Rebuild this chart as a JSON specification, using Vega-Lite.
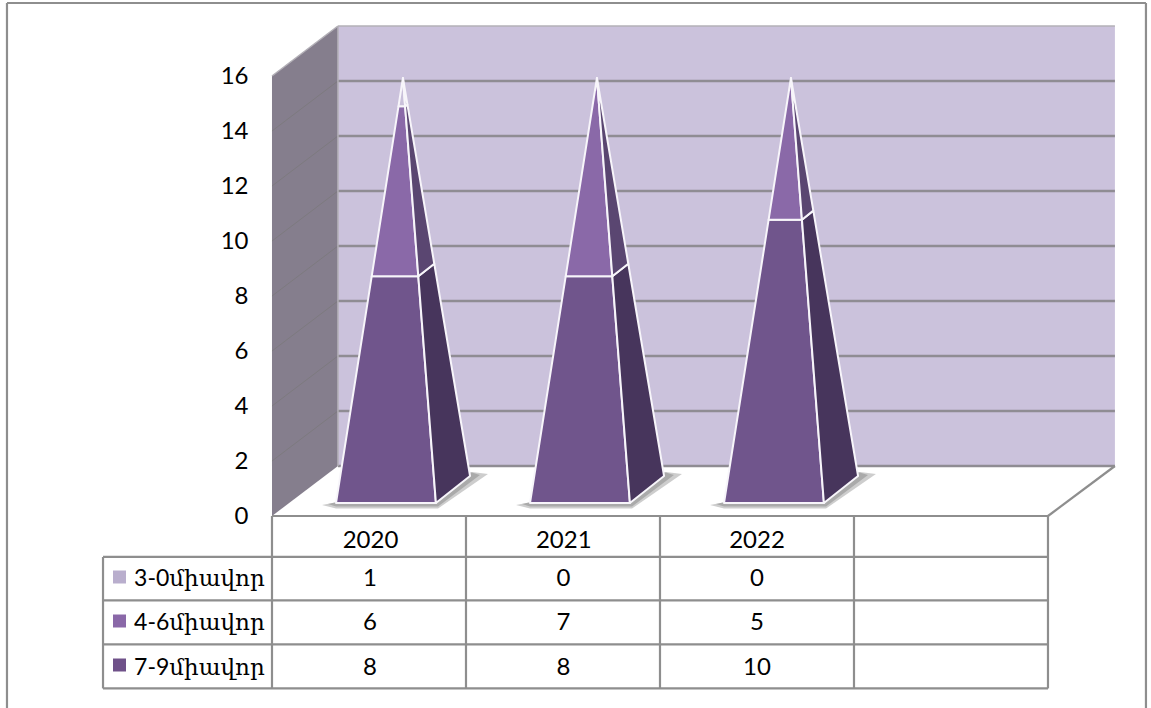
{"$schema":"https://vega.github.io/schema/vega-lite/v6.json","width":1151,"height":708,"padding":0,"autosize":{"type":"none"},"background":"#ffffff","config":{"view":{"stroke":null},"font":"Lato"},
"resolve":{"scale":{"x":"independent","y":"independent","fill":"independent","color":"independent"}},
"layer":[
{"data":{"values":[
{"poly":"back","x":-0.16,"y":1.818,"i":0},{"poly":"back","x":3.845,"y":1.818,"i":1},{"poly":"back","x":3.845,"y":17.818,"i":2},{"poly":"back","x":-0.16,"y":17.818,"i":3},
{"poly":"left","x":-0.5,"y":0,"i":0},{"poly":"left","x":-0.16,"y":1.818,"i":1},{"poly":"left","x":-0.16,"y":17.818,"i":2},{"poly":"left","x":-0.5,"y":16,"i":3}]},
"mark":{"type":"line","interpolate":"linear-closed","strokeWidth":0},
"encoding":{"x":{"field":"x","type":"quantitative","scale":{"domain":[-1.902,4.031]},"axis":null},
"y":{"field":"y","type":"quantitative","scale":{"domain":[0,16],"range":[516,76],"nice":false,"zero":false},"axis":{"title":null,"values":[0,2,4,6,8,10,12,14,16],"orient":"left","offset":-248,"domain":false,"ticks":false,"tickSize":0,"labelPadding":0,"grid":false,"labelFont":"Lato","labelFontSize":24,"labelColor":"#000000","labelFlush":false,"labelOverlap":false}},
"fill":{"field":"poly","type":"nominal","scale":{"domain":["back","left"],"range":["#cbc2dc","#857e8d"]},"legend":null},
"detail":{"field":"poly"},"order":{"field":"i","type":"quantitative"}}},
{"data":{"values":[{"t":2,"x":-0.5,"x2":-0.16,"y":2,"y2":3.818},{"t":4,"x":-0.5,"x2":-0.16,"y":4,"y2":5.818},{"t":6,"x":-0.5,"x2":-0.16,"y":6,"y2":7.818},{"t":8,"x":-0.5,"x2":-0.16,"y":8,"y2":9.818},{"t":10,"x":-0.5,"x2":-0.16,"y":10,"y2":11.818},{"t":12,"x":-0.5,"x2":-0.16,"y":12,"y2":13.818},{"t":14,"x":-0.5,"x2":-0.16,"y":14,"y2":15.818}]},
"mark":{"type":"rule","stroke":"#7d7a7f","strokeWidth":1},
"encoding":{"x":{"field":"x","type":"quantitative","scale":{"domain":[-1.902,4.031]},"axis":null},"x2":{"field":"x2"},
"y":{"field":"y","type":"quantitative","scale":{"domain":[0,16],"range":[516,76],"nice":false,"zero":false},"axis":null},"y2":{"field":"y2"}}},
{"data":{"values":[{"t":0,"x":-0.16,"x2":3.845,"y":1.818},{"t":2,"x":-0.16,"x2":3.845,"y":3.818},{"t":4,"x":-0.16,"x2":3.845,"y":5.818},{"t":6,"x":-0.16,"x2":3.845,"y":7.818},{"t":8,"x":-0.16,"x2":3.845,"y":9.818},{"t":10,"x":-0.16,"x2":3.845,"y":11.818},{"t":12,"x":-0.16,"x2":3.845,"y":13.818},{"t":14,"x":-0.16,"x2":3.845,"y":15.818}]},
"mark":{"type":"rule","stroke":"#8f8c93","strokeWidth":2.4},
"encoding":{"x":{"field":"x","type":"quantitative","scale":{"domain":[-1.902,4.031]},"axis":null},"x2":{"field":"x2"},
"y":{"field":"y","type":"quantitative","scale":{"domain":[0,16],"range":[516,76],"nice":false,"zero":false},"axis":null}}},
{"data":{"values":[
{"x":-0.16,"x2":3.845,"y":17.818,"y2":17.818},{"x":-0.16,"x2":-0.16,"y":1.818,"y2":17.818},{"x":-0.5,"x2":-0.16,"y":16,"y2":17.818}]},
"mark":{"type":"rule","stroke":"#b3b0b7","strokeWidth":1.5},
"encoding":{"x":{"field":"x","type":"quantitative","scale":{"domain":[-1.902,4.031]},"axis":null},"x2":{"field":"x2"},
"y":{"field":"y","type":"quantitative","scale":{"domain":[0,16],"range":[516,76],"nice":false,"zero":false},"axis":null},"y2":{"field":"y2"}}},
{"data":{"values":[
{"poly":"a0","x":-0.242,"y":0.40,"i":0},{"poly":"a0","x":-0.17,"y":0.5,"i":1},{"poly":"a0","x":0.3,"y":0.9,"i":2},{"poly":"a0","x":0.531,"y":1.6,"i":3},{"poly":"a0","x":0.613,"y":1.527,"i":4},{"poly":"a0","x":0.356,"y":0.273,"i":5},{"poly":"a0","x":-0.17,"y":0.273,"i":6},
{"poly":"b0","x":-0.211,"y":0.436,"i":0},{"poly":"b0","x":-0.17,"y":0.5,"i":1},{"poly":"b0","x":0.3,"y":0.9,"i":2},{"poly":"b0","x":0.521,"y":1.6,"i":3},{"poly":"b0","x":0.572,"y":1.49,"i":4},{"poly":"b0","x":0.356,"y":0.345,"i":5},{"poly":"b0","x":-0.17,"y":0.345,"i":6},
{"poly":"a1","x":0.758,"y":0.40,"i":0},{"poly":"a1","x":0.83,"y":0.5,"i":1},{"poly":"a1","x":1.3,"y":0.9,"i":2},{"poly":"a1","x":1.531,"y":1.6,"i":3},{"poly":"a1","x":1.613,"y":1.527,"i":4},{"poly":"a1","x":1.356,"y":0.273,"i":5},{"poly":"a1","x":0.83,"y":0.273,"i":6},
{"poly":"b1","x":0.789,"y":0.436,"i":0},{"poly":"b1","x":0.83,"y":0.5,"i":1},{"poly":"b1","x":1.3,"y":0.9,"i":2},{"poly":"b1","x":1.521,"y":1.6,"i":3},{"poly":"b1","x":1.572,"y":1.49,"i":4},{"poly":"b1","x":1.356,"y":0.345,"i":5},{"poly":"b1","x":0.83,"y":0.345,"i":6},
{"poly":"a2","x":1.758,"y":0.40,"i":0},{"poly":"a2","x":1.83,"y":0.5,"i":1},{"poly":"a2","x":2.3,"y":0.9,"i":2},{"poly":"a2","x":2.531,"y":1.6,"i":3},{"poly":"a2","x":2.613,"y":1.527,"i":4},{"poly":"a2","x":2.356,"y":0.273,"i":5},{"poly":"a2","x":1.83,"y":0.273,"i":6},
{"poly":"b2","x":1.789,"y":0.436,"i":0},{"poly":"b2","x":1.83,"y":0.5,"i":1},{"poly":"b2","x":2.3,"y":0.9,"i":2},{"poly":"b2","x":2.521,"y":1.6,"i":3},{"poly":"b2","x":2.572,"y":1.49,"i":4},{"poly":"b2","x":2.356,"y":0.345,"i":5},{"poly":"b2","x":1.83,"y":0.345,"i":6}]},
"mark":{"type":"line","interpolate":"linear-closed","fill":"#5a5a5a","fillOpacity":0.3,"strokeWidth":0},
"encoding":{"x":{"field":"x","type":"quantitative","scale":{"domain":[-1.902,4.031]},"axis":null},
"y":{"field":"y","type":"quantitative","scale":{"domain":[0,16],"range":[516,76],"nice":false,"zero":false},"axis":null},
"detail":{"field":"poly"},"order":{"field":"i","type":"quantitative"}}},
{"data":{"values":[
{"poly":"2020 7-9 front","tone":"7-9 front","x":-0.17,"y":0,"i":0},{"poly":"2020 7-9 front","tone":"7-9 front","x":0.014,"y":8,"i":1},{"poly":"2020 7-9 front","tone":"7-9 front","x":0.2543,"y":8,"i":2},{"poly":"2020 7-9 front","tone":"7-9 front","x":0.345,"y":0,"i":3},
{"poly":"2020 7-9 side","tone":"7-9 side","x":0.345,"y":0,"i":0},{"poly":"2020 7-9 side","tone":"7-9 side","x":0.521,"y":0.953,"i":1},{"poly":"2020 7-9 side","tone":"7-9 side","x":0.3365,"y":8.445,"i":2},{"poly":"2020 7-9 side","tone":"7-9 side","x":0.2543,"y":8,"i":3},
{"poly":"2020 4-6 front","tone":"4-6 front","x":0.014,"y":8,"i":0},{"poly":"2020 4-6 front","tone":"4-6 front","x":0.152,"y":14,"i":1},{"poly":"2020 4-6 front","tone":"4-6 front","x":0.1863,"y":14,"i":2},{"poly":"2020 4-6 front","tone":"4-6 front","x":0.2543,"y":8,"i":3},
{"poly":"2020 4-6 side","tone":"4-6 side","x":0.2543,"y":8,"i":0},{"poly":"2020 4-6 side","tone":"4-6 side","x":0.3365,"y":8.445,"i":1},{"poly":"2020 4-6 side","tone":"4-6 side","x":0.1981,"y":14.064,"i":2},{"poly":"2020 4-6 side","tone":"4-6 side","x":0.1863,"y":14,"i":3},
{"poly":"2020 3-0 front","tone":"3-0 front","x":0.152,"y":14,"i":0},{"poly":"2020 3-0 front","tone":"3-0 front","x":0.175,"y":15,"i":1},{"poly":"2020 3-0 front","tone":"3-0 front","x":0.1863,"y":14,"i":2},
{"poly":"2020 3-0 side","tone":"3-0 side","x":0.1863,"y":14,"i":0},{"poly":"2020 3-0 side","tone":"3-0 side","x":0.1981,"y":14.064,"i":1},{"poly":"2020 3-0 side","tone":"3-0 side","x":0.175,"y":15,"i":2},
{"poly":"2021 7-9 front","tone":"7-9 front","x":0.83,"y":0,"i":0},{"poly":"2021 7-9 front","tone":"7-9 front","x":1.014,"y":8,"i":1},{"poly":"2021 7-9 front","tone":"7-9 front","x":1.2543,"y":8,"i":2},{"poly":"2021 7-9 front","tone":"7-9 front","x":1.345,"y":0,"i":3},
{"poly":"2021 7-9 side","tone":"7-9 side","x":1.345,"y":0,"i":0},{"poly":"2021 7-9 side","tone":"7-9 side","x":1.521,"y":0.953,"i":1},{"poly":"2021 7-9 side","tone":"7-9 side","x":1.3365,"y":8.445,"i":2},{"poly":"2021 7-9 side","tone":"7-9 side","x":1.2543,"y":8,"i":3},
{"poly":"2021 4-6 front","tone":"4-6 front","x":1.014,"y":8,"i":0},{"poly":"2021 4-6 front","tone":"4-6 front","x":1.175,"y":15,"i":1},{"poly":"2021 4-6 front","tone":"4-6 front","x":1.2543,"y":8,"i":2},
{"poly":"2021 4-6 side","tone":"4-6 side","x":1.2543,"y":8,"i":0},{"poly":"2021 4-6 side","tone":"4-6 side","x":1.3365,"y":8.445,"i":1},{"poly":"2021 4-6 side","tone":"4-6 side","x":1.175,"y":15,"i":2},
{"poly":"2022 7-9 front","tone":"7-9 front","x":1.83,"y":0,"i":0},{"poly":"2022 7-9 front","tone":"7-9 front","x":2.06,"y":10,"i":1},{"poly":"2022 7-9 front","tone":"7-9 front","x":2.2317,"y":10,"i":2},{"poly":"2022 7-9 front","tone":"7-9 front","x":2.345,"y":0,"i":3},
{"poly":"2022 7-9 side","tone":"7-9 side","x":2.345,"y":0,"i":0},{"poly":"2022 7-9 side","tone":"7-9 side","x":2.521,"y":0.953,"i":1},{"poly":"2022 7-9 side","tone":"7-9 side","x":2.2903,"y":10.318,"i":2},{"poly":"2022 7-9 side","tone":"7-9 side","x":2.2317,"y":10,"i":3},
{"poly":"2022 4-6 front","tone":"4-6 front","x":2.06,"y":10,"i":0},{"poly":"2022 4-6 front","tone":"4-6 front","x":2.175,"y":15,"i":1},{"poly":"2022 4-6 front","tone":"4-6 front","x":2.2317,"y":10,"i":2},
{"poly":"2022 4-6 side","tone":"4-6 side","x":2.2317,"y":10,"i":0},{"poly":"2022 4-6 side","tone":"4-6 side","x":2.2903,"y":10.318,"i":1},{"poly":"2022 4-6 side","tone":"4-6 side","x":2.175,"y":15,"i":2}]},
"mark":{"type":"line","interpolate":"linear-closed","stroke":"#f7f5fa","strokeWidth":2,"strokeJoin":"round"},
"encoding":{"x":{"field":"x","type":"quantitative","scale":{"domain":[-1.902,4.031]},"axis":null},
"y":{"field":"y","type":"quantitative","scale":{"domain":[0,15],"range":[503,78],"nice":false,"zero":false},"axis":null},
"fill":{"field":"tone","type":"nominal","scale":{"domain":["7-9 front","7-9 side","4-6 front","4-6 side","3-0 front","3-0 side"],"range":["#70558c","#47355c","#8a69a8","#5a4671","#c9c0da","#a79cbc"]},"legend":null},
"detail":{"field":"poly"},"order":{"field":"i","type":"quantitative"}}},
{"data":{"values":[
{"x":-0.5,"x2":3.5,"y":0,"y2":0},{"x":3.5,"x2":3.845,"y":0,"y2":1.818},
{"x":-1.371,"x2":3.5,"y":-1.49,"y2":-1.49},{"x":-1.371,"x2":3.5,"y":-3.07,"y2":-3.07},{"x":-1.371,"x2":3.5,"y":-4.67,"y2":-4.67},{"x":-1.371,"x2":3.5,"y":-6.27,"y2":-6.27},
{"x":-1.371,"x2":-1.371,"y":-1.49,"y2":-6.27},{"x":-0.5,"x2":-0.5,"y":0,"y2":-6.27},{"x":0.5,"x2":0.5,"y":0,"y2":-6.27},{"x":1.5,"x2":1.5,"y":0,"y2":-6.27},{"x":2.5,"x2":2.5,"y":0,"y2":-6.27},{"x":3.5,"x2":3.5,"y":0,"y2":-6.27},
{"x":-1.866,"x2":4.005,"y":18.655,"y2":18.655},{"x":-1.866,"x2":-1.866,"y":18.655,"y2":-7.1},{"x":4.005,"x2":4.005,"y":18.655,"y2":-7.1}]},
"mark":{"type":"rule","stroke":"#8e8e8e","strokeWidth":2.2},
"encoding":{"x":{"field":"x","type":"quantitative","scale":{"domain":[-1.902,4.031]},"axis":null},"x2":{"field":"x2"},
"y":{"field":"y","type":"quantitative","scale":{"domain":[0,16],"range":[516,76],"nice":false,"zero":false},"axis":null},"y2":{"field":"y2"}}},
{"data":{"values":[{"year":"2020"},{"year":"2021"},{"year":"2022"}]},
"mark":{"type":"text","font":"Lato","fontSize":24,"color":"#000000","baseline":"middle","align":"center"},
"encoding":{"x":{"field":"year","type":"nominal","scale":{"type":"point","domain":["2020","2021","2022"],"range":[370.5,757],"padding":0},"axis":null},
"y":{"datum":-0.91,"type":"quantitative","scale":{"domain":[0,16],"range":[516,76],"nice":false,"zero":false},"axis":null},
"text":{"field":"year","type":"nominal"}}},
{"data":{"values":[
{"year":"2020","series":"3-0միավոր","value":1},{"year":"2021","series":"3-0միավոր","value":0},{"year":"2022","series":"3-0միավոր","value":0},
{"year":"2020","series":"4-6միավոր","value":6},{"year":"2021","series":"4-6միավոր","value":7},{"year":"2022","series":"4-6միավոր","value":5},
{"year":"2020","series":"7-9միավոր","value":8},{"year":"2021","series":"7-9միավոր","value":8},{"year":"2022","series":"7-9միավոր","value":10}]},
"mark":{"type":"text","font":"Lato","fontSize":24,"color":"#000000","baseline":"middle","align":"center"},
"encoding":{"x":{"field":"year","type":"nominal","scale":{"type":"point","domain":["2020","2021","2022"],"range":[370,757],"padding":0},"axis":null},
"y":{"field":"series","type":"nominal","scale":{"type":"point","domain":["3-0միավոր","4-6միավոր","7-9միավոր"],"range":[579,667.5],"padding":0},"axis":null},
"text":{"field":"value","type":"quantitative"}}},
{"data":{"values":[{"series":"3-0միավոր"},{"series":"4-6միավոր"},{"series":"7-9միավոր"}]},
"mark":{"type":"text","font":"Lato, DejaVu Serif","fontSize":23,"color":"#000000","baseline":"middle","align":"left"},
"encoding":{"x":{"datum":-1.211,"type":"quantitative","scale":{"domain":[-1.902,4.031]},"axis":null},
"y":{"field":"series","type":"nominal","scale":{"type":"point","domain":["3-0միավոր","4-6միավոր","7-9միավոր"],"range":[579,667.5],"padding":0},"axis":null},
"text":{"field":"series","type":"nominal"}}},
{"data":{"values":[{"series":"3-0միավոր"},{"series":"4-6միավոր"},{"series":"7-9միավոր"}]},
"mark":{"type":"square","size":169,"filled":true,"opacity":1},
"encoding":{"x":{"datum":-1.286,"type":"quantitative","scale":{"domain":[-1.902,4.031]},"axis":null},
"y":{"field":"series","type":"nominal","scale":{"type":"point","domain":["3-0միավոր","4-6միավոր","7-9միավոր"],"range":[577,665],"padding":0},"axis":null},
"color":{"field":"series","type":"nominal","scale":{"domain":["3-0միավոր","4-6միավոր","7-9միավոր"],"range":["#b9aecd","#8a68a8","#6f5189"]},"legend":null}}}
]}
